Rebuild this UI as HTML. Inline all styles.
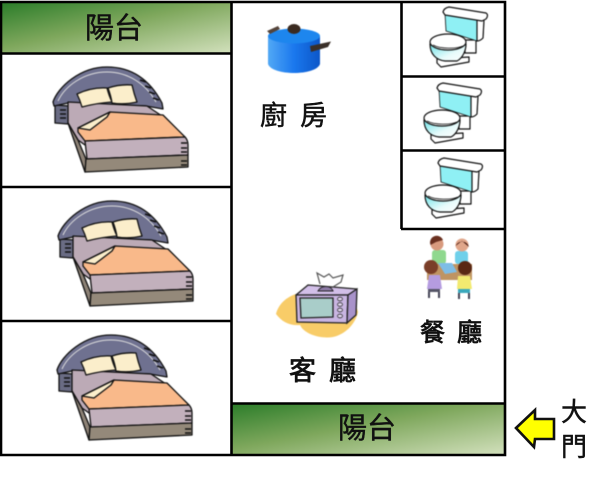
<!DOCTYPE html>
<html><head><meta charset="utf-8"><style>
html,body{margin:0;padding:0;background:#fff;width:616px;height:480px;overflow:hidden}
svg{display:block}
text{font-family:"Liberation Sans","Noto Sans CJK TC",sans-serif;fill:#111;stroke:#111;stroke-width:.45}
.art{filter:blur(.45px)}
</style></head><body>
<svg width="616" height="480" viewBox="0 0 616 480" xmlns="http://www.w3.org/2000/svg">
<defs>
<linearGradient id="g1" x1="0" y1="0" x2="1" y2="1"><stop offset="0" stop-color="#2c7d2a"/><stop offset=".45" stop-color="#7ea75c"/><stop offset="1" stop-color="#d2e0bc"/></linearGradient>
<linearGradient id="pot" x1="0" x2="1" y1="0" y2="0"><stop offset="0" stop-color="#52a8f5"/><stop offset=".5" stop-color="#1a78ee"/><stop offset="1" stop-color="#0c56c8"/></linearGradient>
<linearGradient id="bowl" x1="0" x2="1" y1="0" y2="1"><stop offset="0" stop-color="#6fe3e8"/><stop offset=".6" stop-color="#e8fbfb"/><stop offset="1" stop-color="#fff"/></linearGradient>
<g id="bed" stroke="#111" stroke-width="1.3" stroke-linejoin="round">
<path d="M55,105V123L68,124L70,106Z" fill="#6a6c84"/>
<path d="M53,102C58,87 80,67 107,67C132,67 150,80 162,103L163,109L146,106L68,103L54,106Z" fill="#6f7190"/>
<path d="M58,101C65,86 84,72 107,72C128,72 146,84 156,102" fill="none" stroke="#ddd" stroke-width="1"/>
<path d="M68,102L147,106L165,118L110,135L85,145L78,140L68,123Z" fill="#bcaab6"/>
<path d="M68,123L78,140L86,159L85,172Z" fill="#8d8276"/>
<path d="M77,94Q92,87 107,88Q109,96 112,102Q97,103 82,107Q80,100 77,94Z" fill="#fbeecb"/>
<path d="M108,88Q120,84 132,85Q134,94 137,102Q124,105 112,103Q111,96 108,88Z" fill="#fbeecb"/>
<path d="M78,132L78,128L110,112L163,115L185,137L85,141Z" fill="#f9b98a"/>
<path d="M78,128L110,112L107,117L90,130Z" fill="#fbeecb"/>
<path d="M85,141L185,137Q188,140 188,145L188,155L87,159Z" fill="#c2b0bc"/>
<path d="M86,159L188,155L188,167L85,172Z" fill="#94897a"/>
<path d="M181,143h6M181,148h6M181,152h6M181,161h6M181,165h6M60,110h6M60,114h6M60,118h6M140,80l6,2M145,86l6,2M149,92l6,2M153,98l6,2" stroke-width="1.6" fill="none"/>
</g>
<g id="toilet" stroke="#111" stroke-width="1.2" stroke-linejoin="round">
<path d="M465,40H476V53H465Z" fill="#fff"/>
<path d="M445,13L477,20L484,20L483,38Q480,41 477,41L446,31Z" fill="#8ff0f4" stroke-width=".8"/>
<path d="M477,20L484,20L483,38Q480,41 477,41Z" fill="#fff"/>
<path d="M443,12Q444,8 449,7L486,13Q489,15 486,19L482,21L445,15Z" fill="#fff"/>
<path d="M437,59L469,57L469,62L441,67L437,63Z" fill="#fff"/>
<path d="M430,44C430,54 436,60 445,61H457C463,58 466,50 466,44Z" fill="url(#bowl)"/>
<ellipse cx="448" cy="42" rx="18" ry="8" fill="#fff"/>
<path d="M433,45C440,49 456,49 463,46" fill="none" stroke-width=".8"/>
</g>
</defs>
<rect width="616" height="480" fill="#fff"/>

<rect x="2" y="3" width="229" height="50" fill="url(#g1)"/>
<rect x="232" y="404" width="273" height="50" fill="url(#g1)"/>

<g fill="none" stroke="#000" stroke-width="2.6">
<path d="M1,2H505V455H1Z"/>
<path d="M1,53.500H231M1,187H231M1,321H231M231.500,2V455"/>
<path d="M401.500,2V229M401,76.500H505M401,150.500H505M401,229H505M231,403.500H505"/>
</g>

<text x="85" y="38" font-size="29">陽</text><text x="114" y="38" font-size="29">台</text>
<text x="338" y="438" font-size="29">陽</text><text x="367" y="438" font-size="29">台</text>
<text x="260" y="125" font-size="27">廚</text><text x="300" y="125" font-size="27">房</text>
<text x="289" y="380" font-size="27" style="stroke-width:.8">客</text><text x="329" y="380" font-size="27" style="stroke-width:.8">廳</text>
<text x="420" y="341" font-size="25" style="stroke-width:.8">餐</text><text x="457" y="341" font-size="25" style="stroke-width:.8">廳</text>
<text x="561" y="421" font-size="26">大</text><text x="561" y="456" font-size="26">門</text>

<g class="art">
<use href="#bed"/>
<use href="#bed" x="5" y="134"/>
<use href="#bed" x="4" y="268"/>

<use href="#toilet"/>
<use href="#toilet" x="-6" y="76"/>
<use href="#toilet" x="-5" y="151"/>

<!-- pot -->
<path d="M268,36V64C270,70 282,73 294,73C306,73 318,70 320,64V36Z" fill="url(#pot)"/>
<ellipse cx="294" cy="36" rx="26" ry="7.500" fill="#1d86ee"/>
<ellipse cx="294" cy="29" rx="6.500" ry="5" fill="#3a2a20"/>
<path d="M267,31L278,26L280,29L270,34Z" fill="#55443a"/>
<path d="M310,46L331,41.500L328,47L311,52Z" fill="#3a2f28"/>

<!-- tv -->
<path d="M296,294C284,298 278,306 276,314C282,322 290,326 300,325C304,334 320,339 333,337C347,334 356,322 358,312L352,292Z" fill="#f8cc68"/>
<path d="M296,295L308,285L357,289L348,295Z" fill="#d2bfe8" stroke="#222" stroke-width="1.3" stroke-linejoin="round"/>
<path d="M318,291C321,285 331,285 333,291Z" fill="#8e7ba8" stroke="#222" stroke-width="1"/>
<path d="M320,284L317,273L324,277L329,274L333,278L343,275L341,282L333,287" fill="none" stroke="#555" stroke-width="1.2"/>
<path d="M296,295H348L347,323L297,322Z" fill="#c9b5e2" stroke="#222" stroke-width="1.3"/>
<path d="M348,295L357,289L356,315L347,323Z" fill="#a892ca" stroke="#222" stroke-width="1.3"/>
<path d="M300,298H333V317L301,318Z" fill="#a9cdc9" stroke="#222" stroke-width="1.3"/>
<g fill="#e4d8f2" stroke="#333" stroke-width=".8"><ellipse cx="340" cy="299" rx="2.500" ry="1.800"/><ellipse cx="340" cy="304.500" rx="2.500" ry="1.800"/><ellipse cx="340" cy="310" rx="2.500" ry="1.800"/><ellipse cx="340" cy="316" rx="2.500" ry="1.800"/></g>

<!-- dining -->
<rect x="432" y="250" width="14" height="14" rx="3" fill="#8fd88e"/>
<rect x="455" y="251" width="13" height="13" rx="3" fill="#6fd0ea"/>
<circle cx="437" cy="244" r="6.500" fill="#d89a7e"/><path d="M430.500,245A6.500,6.500 0 0 1 443,240L436,242Z" fill="#6a3020"/>
<circle cx="462" cy="245" r="6.500" fill="#e0a68a"/><path d="M455.500,246A7,6.500 0 0 1 469,247L462,241Z" fill="#4a1c12"/>
<path d="M427,264H472V280H427Z" fill="#bf9462"/>
<path d="M438,263L452,263L457,272L445,274Z" fill="#7ebde6"/>
<path d="M427,289L429,275H440L442,289Z" fill="#b59ce0"/>
<circle cx="431" cy="267" r="7" fill="#7a3e28"/>
<path d="M457,289L458,276H470L472,289Z" fill="#f2ea70"/>
<circle cx="465" cy="268" r="7" fill="#5a2814"/>
<rect x="428" y="289" width="12" height="3" fill="#556"/><path d="M429,292V298M439,292V298" stroke="#445" stroke-width="2"/>
<rect x="458" y="289" width="12" height="4" fill="#3aa8bc"/><path d="M459,293V299M469,293V299" stroke="#445" stroke-width="2"/>
</g>

<!-- arrow -->
<path d="M516,428L535,410V419H554V439H535L534,447Z" fill="#ffff00" stroke="#111" stroke-width="2.600" stroke-linejoin="miter"/>
</svg>
</body></html>
